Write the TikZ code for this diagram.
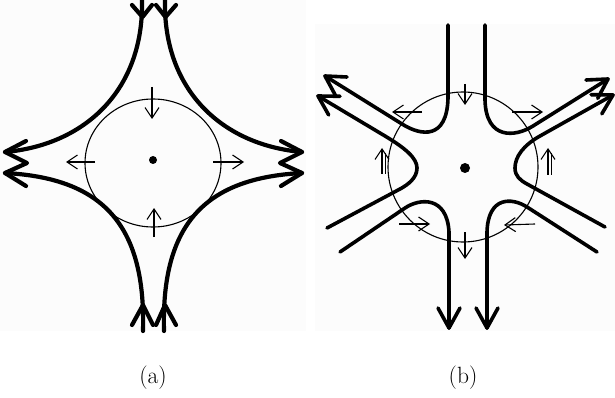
\documentclass[tikz,border=0pt]{standalone}
\usetikzlibrary{arrows.meta}
\begin{document}
\begin{tikzpicture}[x=1pt,y=-1pt,
  bolda/.style={line width=4.2pt,line join=round,line cap=round},
  boldb/.style={line width=3.6pt,line join=round,line cap=round},
  fine/.style={line width=1.1pt},
  farrow/.style={fine,-{Straight Barb[length=10.5pt,width=14pt]}},
  lbl/.style={font=\fontsize{23.5}{28}\selectfont},
  bgpanel/.style={fill=black!1.2,draw=none}]
\useasboundingbox (0,0) rectangle (615,398);
\fill[bgpanel] (0,0) rectangle (306,331);
\fill[bgpanel] (315,24) rectangle (615,331);

% ---------- panel (a)
\draw[fine] (153,163) ellipse [x radius=68pt, y radius=64pt];
\fill (153,160) circle[radius=4pt];
\draw[farrow] (152,87) -- (152,119);
\draw[farrow] (154,237) -- (154,208);
\draw[farrow] (95,162) -- (66,162);
\draw[farrow] (213,162) -- (244,162);

\draw[bolda] (142,0) .. controls (144,90) and (85,145) .. (5,152);
\draw[bolda] (165,0) .. controls (163,90) and (222,145) .. (302,152);
\draw[bolda] (5,173) .. controls (100,178) and (146,222) .. (143,331);
\draw[bolda] (302,173) .. controls (207,178) and (161,222) .. (164,331);

\draw[bolda] (132,5) -- (142.5,17) -- (152,5);
\draw[bolda] (156,5) -- (165.5,17) -- (176,5);
\draw[bolda] (132,325) -- (143,305) -- (153,325);
\draw[bolda] (156,325) -- (165,305) -- (176,325);
\draw[bolda] (26,141) -- (5,152) -- (27,163) -- (5,173) -- (26,186);
\draw[bolda] (281,141) -- (302,152) -- (280,163) -- (302,173) -- (281,186);

% ---------- panel (b)
\draw[fine] (463,167) circle[radius=75pt];
\fill (465,168) circle[radius=5pt];

\draw[boldb] (448,25) -- (448,98) .. controls (447,140) and (421,136) .. (402,124) -- (325,76);
\draw[boldb] (318,96) -- (385,136) .. controls (405,148) and (417,158) .. (417,168)
   .. controls (417,178) and (408,184.7) .. (400,189) -- (327,228);
\draw[boldb] (340,252) -- (405,208) .. controls (420,198) and (447,196) .. (449,232) -- (449,328);
\draw[boldb] (485,25) -- (485,100) .. controls (486,140) and (515,137.3) .. (533,126) -- (608,79);
\draw[boldb] (613,95) -- (540,136) .. controls (523,145.5) and (515,157) .. (515,168)
   .. controls (515,176) and (520,180.1) .. (527,184) -- (605,227);
\draw[boldb] (597,252) -- (527,207) .. controls (512,197.4) and (488,196) .. (487,232) -- (487,328);

\draw[boldb] (347,77) -- (325,76) -- (335.5,95.5);
\draw[boldb] (340,96.3) -- (318,96) -- (328.7,115);
\draw[boldb] (586,80) -- (608,79) -- (597.7,98.4);
\draw[boldb] (591,94.7) -- (613,95) -- (601.8,113.9);
\draw[boldb] (438,308) -- (449,328) -- (460,308);
\draw[boldb] (476,308) -- (487,328) -- (498,308);

\draw[farrow] (465,84) -- (465,105);
\draw[farrow] (465,232) -- (465,259);
\draw[farrow] (422,112) -- (392,112);
\draw[farrow] (512,112) -- (543,112);
\draw[farrow] (399,224) -- (430,224);
\draw[farrow] (535,224) -- (504,225);
\draw[farrow] (382,174) -- (382,148);
\draw[fine] (385.5,174) -- (385.5,153);
\draw[farrow] (548,175) -- (548,148);
\draw[fine] (551.5,175) -- (551.5,153);

\node[lbl] (la) at (153,378) {(a)};
\node[lbl] (lb) at (463,378) {(b)};
\end{tikzpicture}
\end{document}
